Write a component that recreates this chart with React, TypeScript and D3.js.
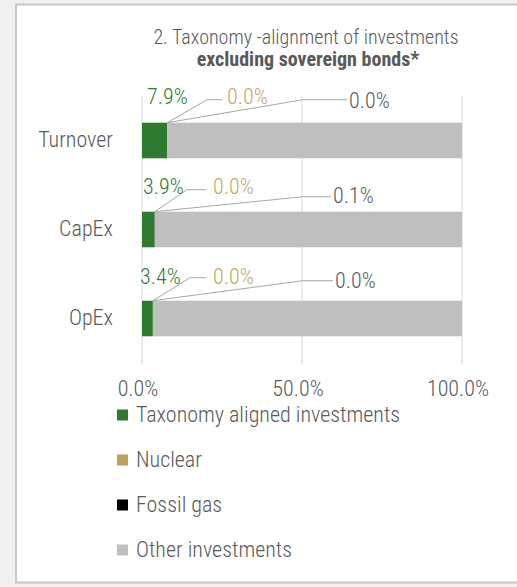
import React from "react";
import * as d3 from "d3";

// ---- Data ----
const categories = ["Turnover", "CapEx", "OpEx"];
const seriesNames = ["Taxonomy aligned investments", "Nuclear", "Fossil gas", "Other investments"];
const alignedValues = [7.9, 3.9, 3.4];
const nuclearValues = [0.0, 0.0, 0.0];
const fossilValues = [0.0, 0.1, 0.0];
const otherValues = [92.1, 96.0, 96.6];
const xTicks = [0, 50, 100];
const titleLine1 = "2. Taxonomy -alignment of investments";
const titleLine2 = "excluding sovereign bonds*";

// ---- Style / layout ----
const W = 517;
const H = 587;
const FONT = "'Liberation Sans Narrow', 'Arial Narrow', 'Roboto Condensed', 'Liberation Sans', sans-serif";
const colors = ["#2e7a2e", "#bfa25a", "#000000", "#bfbfbf"];
const labelColors = ["#2e7d32", "#c4a562", "#595959"];
const textGray = "#595959";
const FS = 22;

// label layout per category (relative to x(0) and band top)
const labelLayout = [
  { gDx: 5, gDy: -19, nElbowDx: 65, nEndDx: 80, nLineDy: -23, nLabelDx: 85, nBaseDy: -19, fElbowDx: 161, fEndDx: 205, fLineDy: -23, fLabelDx: 207, fBaseDy: -15 },
  { gDx: 1, gDy: -18, nElbowDx: 45, nEndDx: 64, nLineDy: -22, nLabelDx: 71, nBaseDy: -18, fElbowDx: 161, fEndDx: 189, fLineDy: -15, fLabelDx: 191, fBaseDy: -9 },
  { gDx: -2, gDy: -17, nElbowDx: 48, nEndDx: 64, nLineDy: -23, nLabelDx: 71, nBaseDy: -17, fElbowDx: 161, fEndDx: 191, fLineDy: -20, fLabelDx: 193, fBaseDy: -13 },
];

export default function App() {
  const x = d3.scaleLinear().domain([0, 100]).range([142, 462]);
  const y = d3.scaleBand<string>().domain(categories).range([96, 363]).paddingInner(0.6).paddingOuter(0.3);

  const rows = categories.map((c, i) => ({
    cat: c,
    s0: alignedValues[i],
    s1: nuclearValues[i],
    s2: fossilValues[i],
    s3: otherValues[i],
  }));
  const stack = d3.stack<any>().keys(["s0", "s1", "s2", "s3"]);
  const stacked = stack(rows);
  const fmt = (v: number) => v.toFixed(1) + "%";

  const legendY = d3.scalePoint<string>().domain(seriesNames).range([415, 550]);

  return (
    <svg width={W} height={H} style={{ position: "absolute", left: 0, top: 0 }} fontFamily={FONT} fontWeight={300}>
      <rect x={0} y={0} width={W} height={H} fill="#f0f0f0" />
      <rect x={16} y={4.5} width={W + 20} height={578} fill="#ffffff" stroke="#c6c6c6" strokeWidth={2} />

      <text x={306} y={44} textAnchor="middle" fontSize={20} fill={textGray}>{titleLine1}</text>
      <text x={308} y={66} textAnchor="middle" fontSize={20} fontWeight="bold" fill={textGray}>{titleLine2}</text>

      {xTicks.map((t) => (
        <line key={"g" + t} x1={x(t)} x2={x(t)} y1={96} y2={364} stroke="#d9d9d9" strokeWidth={1} />
      ))}

      {stacked.map((layer, si) => (
        <g key={layer.key} fill={colors[si]}>
          {layer.map((d, i) => (
            <rect key={i} x={x(d[0])} y={y(categories[i])} width={Math.max(0, x(d[1]) - x(d[0]))} height={y.bandwidth()} />
          ))}
        </g>
      ))}

      {categories.map((c, i) => (
        <text key={"c" + c} x={113} y={(y(c) as number) + y.bandwidth() / 2 + 6} textAnchor="end" fontSize={FS} fill={textGray}>{c}</text>
      ))}

      {categories.map((c, i) => {
        const L = labelLayout[i];
        const top = y(c) as number;
        const x0 = x(0);
        const endX = x(alignedValues[i] + nuclearValues[i] + fossilValues[i]);
        return (
          <g key={"l" + c}>
            <polyline points={`${endX},${top} ${x0 + L.nElbowDx},${top + L.nLineDy} ${x0 + L.nEndDx},${top + L.nLineDy}`} fill="none" stroke="#a6a6a6" strokeWidth={1} />
            <polyline points={`${endX},${top} ${x0 + L.fElbowDx},${top + L.fLineDy} ${x0 + L.fEndDx},${top + L.fLineDy}`} fill="none" stroke="#a6a6a6" strokeWidth={1} />
            <text x={x0 + L.gDx} y={top + L.gDy} fontSize={FS} fill={labelColors[0]}>{fmt(alignedValues[i])}</text>
            <text x={x0 + L.nLabelDx} y={top + L.nBaseDy} fontSize={FS} fill={labelColors[1]}>{fmt(nuclearValues[i])}</text>
            <text x={x0 + L.fLabelDx} y={top + L.fBaseDy} fontSize={FS} fill={labelColors[2]}>{fmt(fossilValues[i])}</text>
          </g>
        );
      })}

      {xTicks.map((t) => (
        <text key={"t" + t} x={x(t) - 4} y={396} textAnchor="middle" fontSize={FS} fill={textGray}>{fmt(t)}</text>
      ))}

      {seriesNames.map((s, i) => (
        <g key={s}>
          <rect x={117} y={(legendY(s) as number) - 5.5} width={11} height={11} fill={colors[i]} />
          <text x={136} y={(legendY(s) as number) + 7} fontSize={FS} fill={textGray}>{s}</text>
        </g>
      ))}
    </svg>
  );
}
